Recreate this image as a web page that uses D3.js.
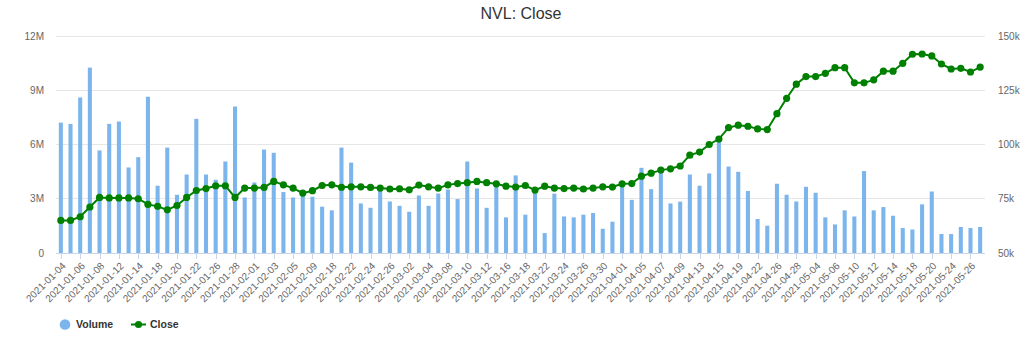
<!DOCTYPE html>
<html><head><meta charset="utf-8">
<script src="https://cdn.jsdelivr.net/npm/d3@7/dist/d3.min.js"></script>
<style>body{margin:0;background:#fff;font-family:"Liberation Sans",Arial,sans-serif}</style>
</head><body><div id="chart"></div>
<script>
const dates = ["2021-01-04","2021-01-05","2021-01-06","2021-01-07","2021-01-08","2021-01-11","2021-01-12","2021-01-13","2021-01-14","2021-01-15","2021-01-18","2021-01-19","2021-01-20","2021-01-21","2021-01-22","2021-01-25","2021-01-26","2021-01-27","2021-01-28","2021-01-29",
"2021-02-01","2021-02-02","2021-02-03","2021-02-04","2021-02-05","2021-02-08","2021-02-09","2021-02-17","2021-02-18","2021-02-19","2021-02-22","2021-02-23","2021-02-24","2021-02-25","2021-02-26",
"2021-03-01","2021-03-02","2021-03-03","2021-03-04","2021-03-05","2021-03-08","2021-03-09","2021-03-10","2021-03-11","2021-03-12","2021-03-15","2021-03-16","2021-03-17","2021-03-18","2021-03-19","2021-03-22","2021-03-23","2021-03-24","2021-03-25","2021-03-26","2021-03-29","2021-03-30","2021-03-31",
"2021-04-01","2021-04-02","2021-04-05","2021-04-06","2021-04-07","2021-04-08","2021-04-09","2021-04-12","2021-04-13","2021-04-14","2021-04-15","2021-04-16","2021-04-19","2021-04-20","2021-04-22","2021-04-23","2021-04-26","2021-04-27","2021-04-28","2021-04-29",
"2021-05-04","2021-05-05","2021-05-06","2021-05-07","2021-05-10","2021-05-11","2021-05-12","2021-05-13","2021-05-14","2021-05-17","2021-05-18","2021-05-19","2021-05-20","2021-05-21","2021-05-24","2021-05-25","2021-05-26","2021-05-27"];

// Volume in millions of shares
const volume = [7.21,7.14,8.6,10.25,5.67,7.14,7.27,4.73,5.3,8.64,3.72,5.83,3.22,4.34,7.42,4.34,4.05,5.06,8.1,3.07,
3.9,5.72,5.54,3.37,3.07,3.25,3.11,2.56,2.36,5.83,5.0,2.74,2.5,3.5,2.85,
2.61,2.28,3.18,2.61,3.29,3.51,2.98,5.06,3.57,2.5,3.7,1.97,4.29,2.12,3.35,1.1,3.28,2.02,1.97,2.12,2.21,1.34,1.73,
3.8,2.94,4.71,3.53,4.43,2.74,2.84,4.34,3.72,4.4,6.17,4.78,4.49,3.43,1.88,1.51,3.83,3.22,2.85,3.66,
3.33,1.97,1.58,2.36,2.02,4.53,2.36,2.54,2.06,1.38,1.3,2.69,3.4,1.05,1.05,1.44,1.38,1.44];

// Close price in thousands
const close = [65.0,65.0,66.7,71.2,75.6,75.4,75.4,75.4,75.0,72.4,71.5,69.9,71.9,75.6,78.8,79.7,81.0,81.0,75.6,79.9,
79.9,80.2,83.0,81.4,79.9,77.6,78.7,81.1,81.4,80.3,80.5,80.5,80.2,79.9,79.5,
79.6,79.1,81.3,80.5,79.9,81.4,82.0,82.4,83.0,82.4,81.9,80.8,80.4,81.1,79.0,80.8,79.9,79.7,79.9,79.5,79.9,80.5,80.4,
81.9,82.0,85.4,86.8,88.2,88.8,90.1,95.1,96.5,100.0,102.5,107.8,108.9,108.4,107.2,106.9,114.2,121.3,127.8,131.3,
131.3,132.8,135.4,135.4,128.4,128.4,129.8,133.8,133.8,137.4,141.6,141.7,140.8,137.1,134.8,135.1,133.4,135.7];

const volTicks = [0,3,6,9,12];
const volTickLabels = ["0","3M","6M","9M","12M"];
const closeTicks = [50,75,100,125,150];
const closeTickLabels = ["50k","75k","100k","125k","150k"];
const title = "NVL: Close";
const seriesNames = ["Volume","Close"];

const W = 1024, H = 338;
const m = {left:56, right:985, top:36, bottom:253};
const svg = d3.select("#chart").append("svg").attr("width",W).attr("height",H);

const x = d3.scaleBand().domain(dates).range([m.left,m.right]).paddingInner(0.58).paddingOuter(0.29);
const yV = d3.scaleLinear().domain([0,12]).range([m.bottom,m.top]);
const yC = d3.scaleLinear().domain([50,150]).range([m.bottom,m.top]);
const cx = d => x(d) + x.bandwidth()/2;

// title
svg.append("text").attr("x",521).attr("y",19).attr("text-anchor","middle")
  .attr("font-size",16).attr("fill","#333").text(title);

// gridlines
svg.append("g").selectAll("line").data(volTicks).join("line")
  .attr("x1",m.left).attr("x2",m.right).attr("y1",d=>yV(d)).attr("y2",d=>yV(d))
  .attr("stroke","#e6e6e6").attr("stroke-width",1).attr("shape-rendering","crispEdges");

// left axis labels
svg.append("g").selectAll("text").data(volTicks).join("text")
  .attr("x",44).attr("y",d=>yV(d)).attr("dy","0.35em").attr("text-anchor","end")
  .attr("font-size",10).attr("fill","#666").text((d,i)=>volTickLabels[i]);
// right axis labels
svg.append("g").selectAll("text").data(closeTicks).join("text")
  .attr("x",998).attr("y",d=>yC(d)).attr("dy","0.35em").attr("text-anchor","start")
  .attr("font-size",10).attr("fill","#666").text((d,i)=>closeTickLabels[i]);

// bars
svg.append("g").selectAll("rect").data(dates).join("rect")
  .attr("x",d=>x(d)).attr("width",x.bandwidth())
  .attr("y",(d,i)=>yV(volume[i])).attr("height",(d,i)=>yV(0)-yV(volume[i]))
  .attr("fill","#7cb5ec");

// x axis line and ticks
svg.append("line").attr("x1",m.left).attr("x2",m.right).attr("y1",m.bottom+0.5).attr("y2",m.bottom+0.5)
  .attr("stroke","#ccd6eb");
const labeled = dates.filter((d,i)=>i%2===0);
svg.append("g").selectAll("line").data(labeled).join("line")
  .attr("x1",d=>Math.round(cx(d))+0.5).attr("x2",d=>Math.round(cx(d))+0.5)
  .attr("y1",m.bottom).attr("y2",m.bottom+6).attr("stroke","#ccd6eb");
svg.append("g").selectAll("text").data(labeled).join("text")
  .attr("transform",d=>`translate(${cx(d)+3},${m.bottom+11}) rotate(-45)`)
  .attr("text-anchor","end").attr("dy","0.35em")
  .attr("font-size",10).attr("fill","#666").text(d=>d);

// close line
const line = d3.line().x((d,i)=>cx(dates[i])).y(d=>yC(d));
svg.append("path").datum(close).attr("d",line).attr("fill","none")
  .attr("stroke","#008000").attr("stroke-width",2);
svg.append("g").selectAll("circle").data(close).join("circle")
  .attr("cx",(d,i)=>cx(dates[i])).attr("cy",d=>yC(d)).attr("r",3.6).attr("fill","#008000");

// legend
const lg = svg.append("g").attr("font-size",10.5).attr("font-weight","bold").attr("fill","#333");
lg.append("circle").attr("cx",65).attr("cy",324.5).attr("r",5.3).attr("fill","#7cb5ec");
lg.append("text").attr("x",76).attr("y",324.5).attr("dy","0.35em").text(seriesNames[0]);
lg.append("line").attr("x1",131).attr("x2",146).attr("y1",324.5).attr("y2",324.5).attr("stroke","#008000").attr("stroke-width",2);
lg.append("circle").attr("cx",138.5).attr("cy",324.5).attr("r",3.6).attr("fill","#008000");
lg.append("text").attr("x",150).attr("y",324.5).attr("dy","0.35em").text(seriesNames[1]);
</script></body></html>
